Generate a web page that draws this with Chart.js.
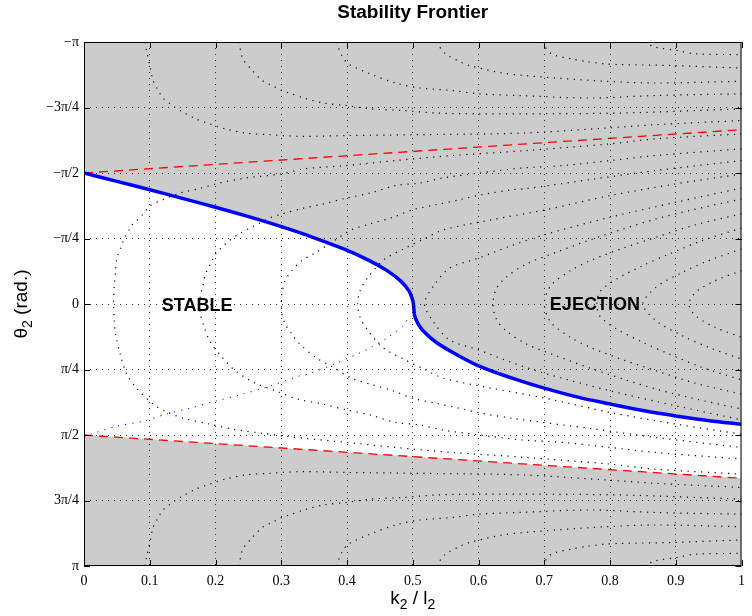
<!DOCTYPE html>
<html><head><meta charset="utf-8">
<script src="https://cdn.jsdelivr.net/npm/chart.js@4/dist/chart.umd.min.js"></script>
<style>html,body{margin:0;padding:0;background:#fff}#wrap{width:752px;height:616px}</style>
</head><body><div id="wrap"><canvas id="c" width="752" height="616"></canvas></div>
<script>
// ---------- ticks ----------
const xTickValues = [0,0.1,0.2,0.3,0.4,0.5,0.6,0.7,0.8,0.9,1];
const xTickLabels = ['0','0.1','0.2','0.3','0.4','0.5','0.6','0.7','0.8','0.9','1'];
const yTickValues = [-Math.PI,-3*Math.PI/4,-Math.PI/2,-Math.PI/4,0,Math.PI/4,Math.PI/2,3*Math.PI/4,Math.PI];
const yTickLabels = ['\u2212\u03c0','\u22123\u03c0/4','\u2212\u03c0/2','\u2212\u03c0/4','0','\u03c0/4','\u03c0/2','3\u03c0/4','\u03c0'];

// ---------- series [x = k2/l2, y = theta2 (rad)] ----------
const frontier = [[0,-1.571],[0.05,-1.47],[0.10,-1.37],[0.148,-1.27],[0.20,-1.16],[0.249,-1.05],[0.299,-0.93],[0.348,-0.80],[0.395,-0.66],[0.434,-0.52],[0.461,-0.40],[0.481,-0.28],[0.494,-0.16],[0.4993,-0.06],[0.501,0],[0.5018,0.07],[0.503,0.144],[0.508,0.235],[0.516,0.324],[0.536,0.462],[0.566,0.604],[0.601,0.745],[0.651,0.889],[0.700,1.009],[0.751,1.117],[0.801,1.201],[0.852,1.281],[0.902,1.345],[0.951,1.399],[1.00,1.441]];
const redUpper = [[0,-1.571],[0.25,-1.70],[0.5,-1.83],[0.75,-1.96],[1,-2.09]];
const redLower = [[0,1.571],[0.25,1.70],[0.5,1.83],[0.75,1.96],[1,2.09]];
const blueDotted = [[0.010,1.561],[0.050,1.465],[0.090,1.405],[0.125,1.321],[0.161,1.249],[0.200,1.165],[0.241,1.081],[0.282,0.985],[0.327,0.865],[0.345,0.829],[0.384,0.709],[0.435,0.528],[0.465,0.384],[0.485,0.264],[0.495,0.144]];

const contourT1 = [[0.093,-3.14],[0.095,-3.04],[0.101,-2.83],[0.105,-2.68],[0.113,-2.56],[0.120,-2.47],[0.133,-2.39],[0.146,-2.32],[0.170,-2.22],[0.191,-2.16],[0.215,-2.10],[0.245,-2.05],[0.282,-2.03],[0.331,-2.01],[0.401,-2.02],[0.506,-2.03],[0.669,-2.05],[0.794,-2.11],[0.869,-2.15],[1.0,-2.20]];
const contourT2 = [[0.236,-3.14],[0.241,-2.95],[0.256,-2.80],[0.271,-2.68],[0.286,-2.62],[0.301,-2.56],[0.316,-2.52],[0.334,-2.47],[0.364,-2.41],[0.399,-2.38],[0.435,-2.34],[0.485,-2.32],[0.535,-2.29],[0.601,-2.28],[0.669,-2.28],[0.819,-2.29],[1.0,-2.34]];
const contourT3 = [[0.384,-3.14],[0.392,-2.98],[0.402,-2.88],[0.435,-2.76],[0.474,-2.65],[0.511,-2.59],[0.560,-2.56],[0.601,-2.52],[0.661,-2.50],[0.770,-2.47],[0.869,-2.50],[1.0,-2.52]];
const contourT4 = [[0.535,-3.14],[0.550,-3.00],[0.568,-2.92],[0.586,-2.86],[0.636,-2.77],[0.669,-2.74],[0.718,-2.71],[0.794,-2.67],[0.869,-2.65],[1.0,-2.67]];
const contourT5 = [[0.696,-3.14],[0.711,-3.00],[0.741,-2.94],[0.762,-2.91],[0.792,-2.88],[0.819,-2.87],[0.892,-2.86],[1.0,-2.83]];
const contourT6 = [[0.852,-3.14],[0.869,-3.08],[0.902,-3.04],[0.928,-3.00],[1.0,-2.99]];
const contourB1 = [[0.093,3.14],[0.095,3.04],[0.101,2.83],[0.105,2.68],[0.113,2.56],[0.120,2.47],[0.133,2.39],[0.146,2.32],[0.170,2.22],[0.191,2.16],[0.215,2.10],[0.245,2.05],[0.282,2.03],[0.331,2.01],[0.401,2.02],[0.506,2.03],[0.669,2.05],[0.794,2.11],[0.869,2.15],[1.0,2.20]];
const contourB2 = [[0.236,3.14],[0.241,2.95],[0.256,2.80],[0.271,2.68],[0.286,2.62],[0.301,2.56],[0.316,2.52],[0.334,2.47],[0.364,2.41],[0.399,2.38],[0.435,2.34],[0.485,2.32],[0.535,2.29],[0.601,2.28],[0.669,2.28],[0.819,2.29],[1.0,2.34]];
const contourB3 = [[0.384,3.14],[0.392,2.98],[0.402,2.88],[0.435,2.76],[0.474,2.65],[0.511,2.59],[0.560,2.56],[0.601,2.52],[0.661,2.50],[0.770,2.47],[0.869,2.50],[1.0,2.52]];
const contourB4 = [[0.535,3.14],[0.550,3.00],[0.568,2.92],[0.586,2.86],[0.636,2.77],[0.669,2.74],[0.718,2.71],[0.794,2.67],[0.869,2.65],[1.0,2.67]];
const contourB5 = [[0.696,3.14],[0.711,3.00],[0.741,2.94],[0.762,2.91],[0.792,2.88],[0.819,2.87],[0.892,2.86],[1.0,2.83]];
const contourB6 = [[0.852,3.14],[0.869,3.08],[0.902,3.04],[0.928,3.00],[1.0,2.99]];

const contourV1 = [[1.0,-2.04],[0.869,-1.98],[0.800,-1.92],[0.673,-1.84],[0.560,-1.78],[0.474,-1.72],[0.399,-1.66],[0.334,-1.62],[0.301,-1.56],[0.245,-1.51],[0.200,-1.44],[0.178,-1.39],[0.146,-1.33],[0.120,-1.25],[0.101,-1.18],[0.090,-1.08],[0.080,-1.00],[0.072,-0.94],[0.066,-0.85],[0.060,-0.76],[0.056,-0.67],[0.050,-0.55],[0.048,-0.40],[0.046,-0.22],[0.045,0],[0.046,0.20],[0.048,0.36],[0.055,0.60],[0.065,0.84],[0.080,1.01],[0.105,1.20],[0.125,1.29],[0.151,1.37],[0.191,1.44],[0.226,1.50],[0.271,1.55],[0.311,1.59],[0.334,1.61],[0.399,1.66],[0.474,1.72],[0.560,1.78],[0.673,1.84],[0.800,1.92],[0.869,1.98],[1.0,2.04]];
const contourV2 = [[1.0,-1.86],[0.869,-1.78],[0.800,-1.72],[0.729,-1.66],[0.666,-1.63],[0.601,-1.57],[0.545,-1.51],[0.511,-1.45],[0.474,-1.42],[0.435,-1.33],[0.399,-1.27],[0.364,-1.20],[0.334,-1.15],[0.301,-1.08],[0.282,-1.03],[0.267,-0.97],[0.252,-0.91],[0.236,-0.84],[0.221,-0.76],[0.211,-0.69],[0.200,-0.60],[0.193,-0.49],[0.185,-0.36],[0.181,-0.22],[0.177,-0.10],[0.176,0],[0.177,0.12],[0.183,0.28],[0.191,0.44],[0.206,0.60],[0.230,0.80],[0.261,0.95],[0.291,1.04],[0.325,1.14],[0.364,1.20],[0.399,1.27],[0.435,1.33],[0.474,1.42],[0.511,1.45],[0.545,1.51],[0.601,1.57],[0.666,1.63],[0.729,1.66],[0.800,1.72],[0.869,1.78],[1.0,1.86]];
const contourV3 = [[1.0,-1.72],[0.869,-1.60],[0.777,-1.50],[0.669,-1.38],[0.651,-1.37],[0.605,-1.31],[0.571,-1.25],[0.535,-1.19],[0.500,-1.13],[0.470,-1.04],[0.435,-0.96],[0.407,-0.89],[0.375,-0.73],[0.351,-0.61],[0.331,-0.52],[0.316,-0.40],[0.306,-0.28],[0.301,-0.12],[0.300,0],[0.301,0.12],[0.306,0.24],[0.316,0.36],[0.328,0.48],[0.354,0.65],[0.375,0.74],[0.407,0.89],[0.435,0.96],[0.470,1.04],[0.500,1.13],[0.535,1.19],[0.571,1.25],[0.605,1.31],[0.651,1.37],[0.777,1.50],[0.869,1.60],[1.0,1.72]];
const contourV4 = [[1.0,-1.56],[0.90,-1.44],[0.80,-1.30],[0.702,-1.13],[0.620,-1.01],[0.547,-0.89],[0.517,-0.78],[0.491,-0.68],[0.456,-0.53],[0.431,-0.31],[0.420,-0.16],[0.416,0],[0.420,0.16],[0.431,0.31],[0.456,0.53],[0.491,0.68],[0.517,0.78],[0.547,0.89],[0.620,1.01],[0.702,1.13],[0.80,1.30],[0.90,1.44],[1.0,1.56]];
const contourV5 = [[1.0,-1.39],[0.90,-1.22],[0.80,-1.04],[0.70,-0.83],[0.65,-0.70],[0.60,-0.55],[0.556,-0.43],[0.532,-0.22],[0.518,0],[0.532,0.22],[0.556,0.43],[0.60,0.55],[0.65,0.70],[0.70,0.83],[0.80,1.04],[0.90,1.22],[1.0,1.39]];
const contourV6 = [[1.0,-1.26],[0.92,-1.12],[0.87,-1.02],[0.82,-0.90],[0.77,-0.77],[0.718,-0.62],[0.673,-0.48],[0.642,-0.32],[0.627,-0.18],[0.622,0],[0.627,0.18],[0.642,0.32],[0.673,0.48],[0.718,0.62],[0.77,0.77],[0.82,0.90],[0.87,1.02],[0.92,1.12],[1.0,1.26]];
const contourV7 = [[1.0,-1.08],[0.93,-0.95],[0.87,-0.80],[0.82,-0.67],[0.77,-0.52],[0.74,-0.40],[0.71,-0.22],[0.70,0],[0.71,0.22],[0.74,0.40],[0.77,0.52],[0.82,0.67],[0.87,0.80],[0.93,0.95],[1.0,1.08]];
const contourV8 = [[1.0,-0.91],[0.94,-0.76],[0.89,-0.60],[0.85,-0.46],[0.81,-0.30],[0.785,-0.15],[0.78,0],[0.785,0.15],[0.81,0.30],[0.85,0.46],[0.89,0.60],[0.94,0.76],[1.0,0.91]];
const contourV9 = [[1.0,-0.66],[0.95,-0.52],[0.91,-0.38],[0.87,-0.20],[0.85,0],[0.87,0.20],[0.91,0.38],[0.95,0.52],[1.0,0.66]];
const contourV10 = [[1.0,-0.40],[0.96,-0.28],[0.93,-0.14],[0.92,0],[0.93,0.14],[0.96,0.28],[1.0,0.40]];

const contours = [contourT1,contourT2,contourT3,contourT4,contourT5,contourT6,contourB1,contourB2,contourB3,contourB4,contourB5,contourB6,contourV1,contourV2,contourV3,contourV4,contourV5,contourV6,contourV7,contourV8,contourV9,contourV10];

// ---------- text ----------
const titleText = 'Stability Frontier';
const xTitleParts = [['k',0],['2',1],[' / l',0],['2',1]];
const yTitleParts = [['\u03b8',0],['2',1],[' (rad.)',0]];
const regionLabels = [{text:'STABLE', x:0.172, y:0.03},{text:'EJECTION', x:0.777, y:0.01}];

// ---------- build ----------
const pts = a => a.map(([x,y]) => ({x, y}));
const datasets = [
  {data: pts(frontier), borderColor:'#0000ff', borderWidth:3.5, tension:0.35,
   fill:{target:2, above:'#ffffff', below:'#ffffff'}, backgroundColor:'#ffffff'},
  {data: pts(redUpper), borderColor:'#ff0000', borderWidth:1.3, borderDash:[9,6], fill:false},
  {data: pts(redLower), borderColor:'#ff0000', borderWidth:1.3, borderDash:[9,6], fill:false},
  {data: pts(blueDotted), borderColor:'#0000ff', borderWidth:1, borderDash:[1.2,6], fill:false, tension:0.3},
];
contours.forEach(c => datasets.push({data: pts(c), borderColor:'#000000', borderWidth:1.2, borderDash:[1.2,5.5], fill:false, tension:0.3}));
datasets.forEach(d => { d.showLine = true; d.pointRadius = 0; d.pointHoverRadius = 0; });

function drawParts(ctx, parts, size) {
  const big = size + 'px "Liberation Sans", Arial, sans-serif';
  const small = Math.round(size*0.72) + 'px "Liberation Sans", Arial, sans-serif';
  let w = 0;
  parts.forEach(([t,s]) => { ctx.font = s ? small : big; w += ctx.measureText(t).width; });
  let x = -w/2;
  parts.forEach(([t,s]) => { ctx.font = s ? small : big; ctx.fillText(t, x, s ? size*0.3 : 0); x += ctx.measureText(t).width; });
}

const decor = {
  id: 'decor',
  beforeDraw(chart) {
    const {ctx, chartArea: a} = chart;
    ctx.save(); ctx.fillStyle = '#cccccc';
    ctx.fillRect(a.left, a.top, a.right - a.left, a.bottom - a.top); ctx.restore();
  },
  afterDraw(chart) {
    const {ctx, chartArea: a, scales: {x, y}} = chart;
    ctx.save();
    ctx.strokeStyle = '#000'; ctx.lineWidth = 1; ctx.setLineDash([]);
    ctx.beginPath();
    xTickValues.forEach(v => { const p = Math.round(x.getPixelForValue(v)) + 0.5;
      ctx.moveTo(p, a.bottom); ctx.lineTo(p, a.bottom - 6); ctx.moveTo(p, a.top); ctx.lineTo(p, a.top + 6); });
    yTickValues.forEach(v => { const p = Math.round(y.getPixelForValue(v)) + 0.5;
      ctx.moveTo(a.left, p); ctx.lineTo(a.left + 6, p); ctx.moveTo(a.right, p); ctx.lineTo(a.right - 6, p); });
    ctx.stroke();
    ctx.strokeRect(a.left + 0.5, a.top + 0.5, a.right - a.left - 1, a.bottom - a.top - 1);
    ctx.fillStyle = '#000';
    ctx.textAlign = 'center'; ctx.textBaseline = 'middle';
    ctx.font = 'bold 19px "Liberation Sans", Arial, sans-serif';
    ctx.fillText(titleText, (a.left + a.right)/2, 13);
    regionLabels.forEach(r => { ctx.font = 'bold 18px "Liberation Sans", Arial, sans-serif';
      ctx.fillText(r.text, x.getPixelForValue(r.x), y.getPixelForValue(r.y)); });
    ctx.textAlign = 'left'; ctx.textBaseline = 'middle';
    ctx.save(); ctx.translate((a.left + a.right)/2, 599); drawParts(ctx, xTitleParts, 19); ctx.restore();
    ctx.save(); ctx.translate(22, (a.top + a.bottom)/2); ctx.rotate(-Math.PI/2); drawParts(ctx, yTitleParts, 19); ctx.restore();
    ctx.restore();
  }
};

const gridColor = n => c => (c.index === 0 || c.index === n - 1) ? 'rgba(0,0,0,0)' : 'rgba(0,0,0,0.8)';
new Chart(document.getElementById('c'), {
  type: 'scatter',
  data: {datasets},
  options: {
    responsive: false, animation: false, events: [],
    layout: {padding: {top: 42, right: 4, left: 0, bottom: 0}},
    plugins: {legend: {display: false}, tooltip: {enabled: false}, title: {display: false},
              filler: {drawTime: 'beforeDatasetsDraw'}},
    scales: {
      x: {type: 'linear', min: 0, max: 1,
          afterBuildTicks: s => { s.ticks = xTickValues.map(v => ({value: v})); },
          afterFit: s => { s.height = 50; },
          ticks: {autoSkip: false, maxRotation: 0, padding: 7, color: '#000',
                  font: {family: '"Liberation Serif", "Times New Roman", serif', size: 14},
                  callback: (v, i) => xTickLabels[i]},
          grid: {drawTicks: false, z: 1, lineWidth: 1, color: gridColor(xTickValues.length)},
          border: {display: false, dash: [1, 5]}},
      y: {type: 'linear', min: -Math.PI, max: Math.PI, reverse: true,
          afterBuildTicks: s => { s.ticks = yTickValues.map(v => ({value: v})); },
          afterFit: s => { s.width = 84; },
          ticks: {autoSkip: false, padding: 5, color: '#000',
                  font: {family: '"Liberation Serif", "Times New Roman", serif', size: 14},
                  callback: (v, i) => yTickLabels[i]},
          grid: {drawTicks: false, z: 1, lineWidth: 1, color: gridColor(yTickValues.length)},
          border: {display: false, dash: [1, 5]}}
    }
  },
  plugins: [decor]
});
</script></body></html>
